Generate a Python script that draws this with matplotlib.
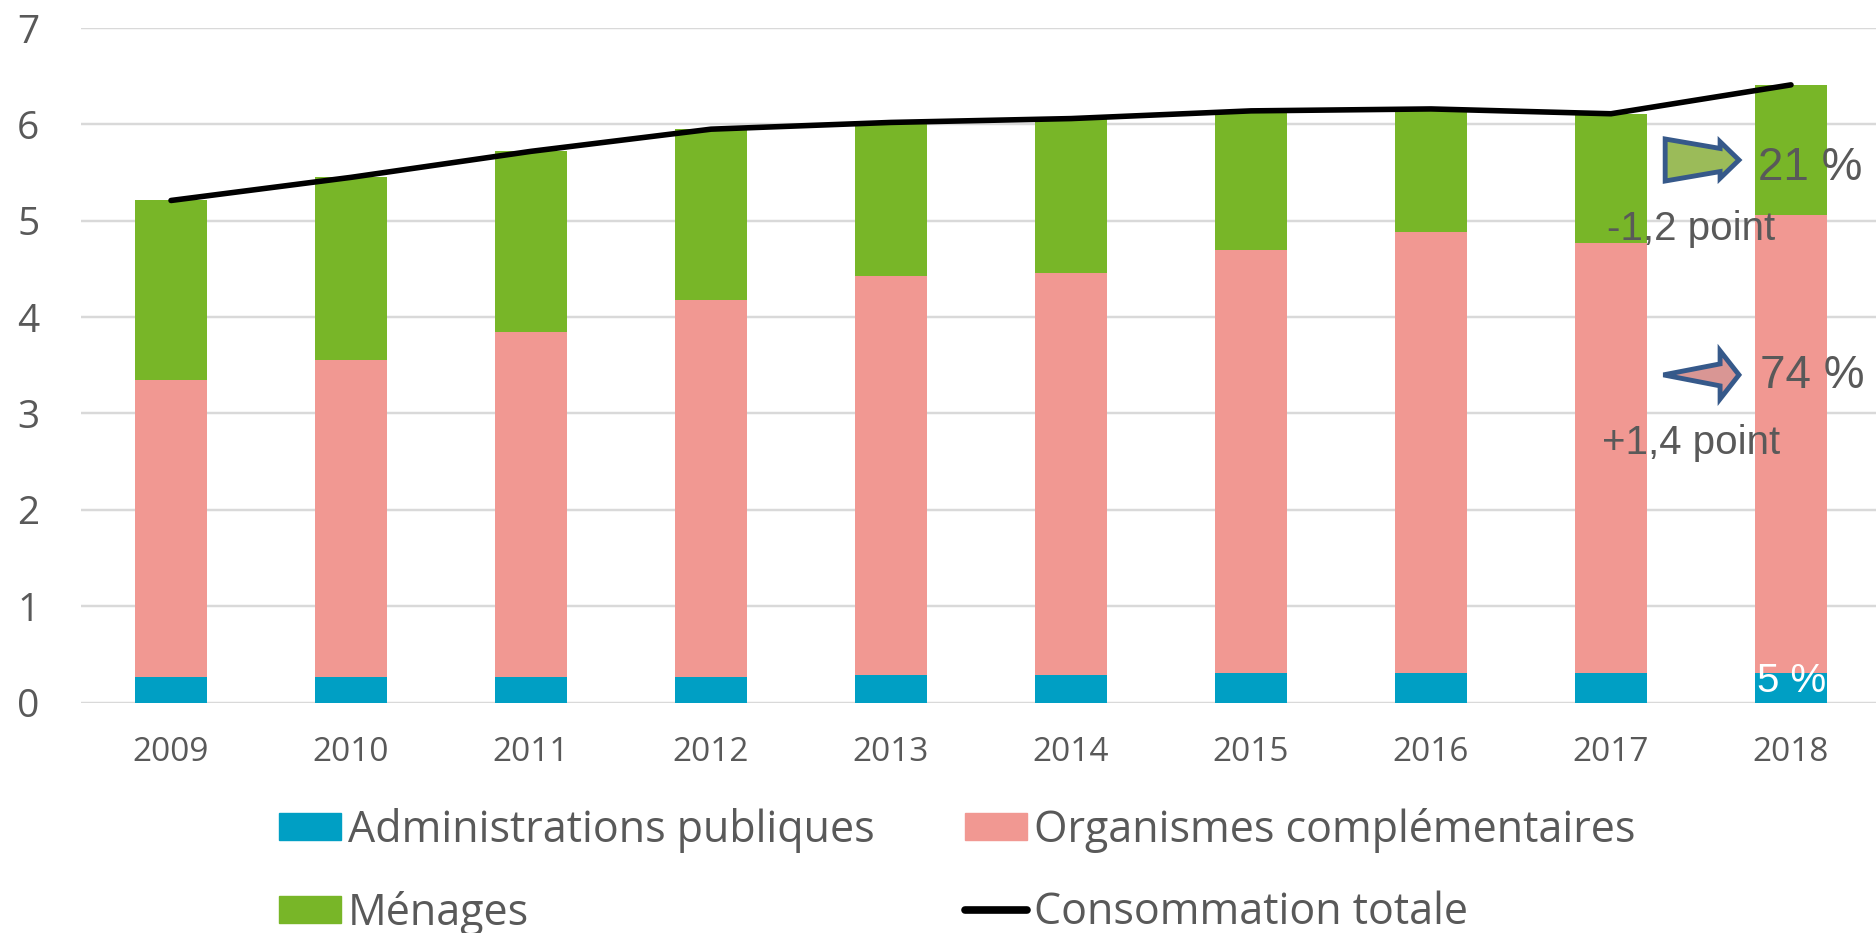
import matplotlib.pyplot as plt
from matplotlib.patches import Polygon, Patch
from matplotlib.lines import Line2D
import numpy as np

# data (milliards d'euros)
years = ['2009', '2010', '2011', '2012', '2013', '2014', '2015', '2016', '2017', '2018']
admin = [0.26, 0.26, 0.26, 0.26, 0.285, 0.285, 0.31, 0.31, 0.31, 0.31]
organismes = [3.09, 3.29, 3.58, 3.92, 4.145, 4.175, 4.39, 4.57, 4.46, 4.75]
menages = [1.86, 1.90, 1.88, 1.77, 1.59, 1.60, 1.44, 1.28, 1.34, 1.35]
total = [5.21, 5.45, 5.72, 5.95, 6.02, 6.06, 6.14, 6.16, 6.11, 6.41]

c_admin = '#009FC4'
c_org = '#F19892'
c_men = '#78B628'
grey = '#595959'

fig = plt.figure(figsize=(18.76, 9.33), dpi=100)
ax = fig.add_axes([81 / 1876, (933 - 702.5) / 933, 1800 / 1876, 674.5 / 933])

x = np.arange(len(years))
w = 0.395
b1 = ax.bar(x, admin, w, color=c_admin, zorder=2)
b2 = ax.bar(x, organismes, w, bottom=admin, color=c_org, zorder=2)
bot3 = np.array(admin) + np.array(organismes)
b3 = ax.bar(x, menages, w, bottom=bot3, color=c_men, zorder=2)
ln, = ax.plot(x, total, color='black', lw=4, solid_capstyle='round', zorder=4)

ax.set_xlim(-0.5, 9.5)
ax.set_ylim(0, 7)
ax.set_yticks(range(0, 8))
ax.set_xticks(x)
ax.set_xticklabels(years)
ax.yaxis.grid(True, color='#D9D9D9', lw=1.75)
ax.set_axisbelow(True)
for s in ax.spines.values():
    s.set_visible(False)
ax.tick_params(axis='both', length=0, colors=grey)
ax.tick_params(axis='y', pad=30, labelsize=28)
ax.tick_params(axis='x', pad=24, labelsize=24)
for lab in ax.get_yticklabels() + ax.get_xticklabels():
    lab.set_family('Open Sans')


def block_arrow(tip_x, tip_y, length, head_len, tail_h, neck_h, head_h, fill):
    xt = tip_x - length
    xn = tip_x - head_len
    pts = [(xt, tip_y + tail_h), (xn, tip_y + neck_h), (xn, tip_y + head_h),
           (tip_x, tip_y), (xn, tip_y - head_h), (xn, tip_y - neck_h),
           (xt, tip_y - tail_h)]
    ax.add_patch(Polygon(pts, closed=True, facecolor=fill, edgecolor='#36598A',
                         lw=3.5, joinstyle='miter', zorder=5, clip_on=False))


last = x[-1]
block_arrow(last - 0.289, 5.63, 0.41, 0.105, 0.218, 0.12, 0.19, '#9BBB59')
block_arrow(last - 0.289, 3.40, 0.42, 0.105, 0.0, 0.114, 0.25, '#D99694')

tfont = 'Liberation Sans'
ax.text(last - 0.183, 5.42, '21 %', fontsize=33, color=grey, family=tfont,
        va='baseline', ha='left', zorder=6, clip_on=False)
ax.text(last - 0.172, 3.264, '74 %', fontsize=33, color=grey, family=tfont,
        va='baseline', ha='left', zorder=6, clip_on=False)
ax.text(last - 1.02, 4.80, '-1,2 point', fontsize=29, color=grey, family=tfont,
        va='baseline', ha='left', zorder=6)
ax.text(last - 1.05, 2.584, '+1,4 point', fontsize=29, color=grey, family=tfont,
        va='baseline', ha='left', zorder=6)
t5 = ax.text(last - 0.19, 0.109, '5 %', fontsize=29, color='white', family=tfont,
             va='baseline', ha='left', zorder=6)
t5.set_clip_path(b1.patches[-1])

handles = [Patch(color=c_admin), Patch(color=c_men), Patch(color=c_org),
           Line2D([], [], color='black', lw=5.5, solid_capstyle='round')]
labels = ['Administrations publiques', 'Ménages', 'Organismes complémentaires',
          'Consommation totale']
leg = fig.legend(handles, labels, ncol=2, loc='upper left',
                 bbox_to_anchor=(279 / 1876, 0.134), frameon=False,
                 prop={'family': 'Open Sans', 'size': 31},
                 handlelength=1.44, handleheight=0.6, handletextpad=0.16,
                 columnspacing=2.1, labelspacing=0.88, borderpad=0,
                 borderaxespad=0)
for t in leg.get_texts():
    t.set_color(grey)

fig.savefig('out.png', dpi=100)
